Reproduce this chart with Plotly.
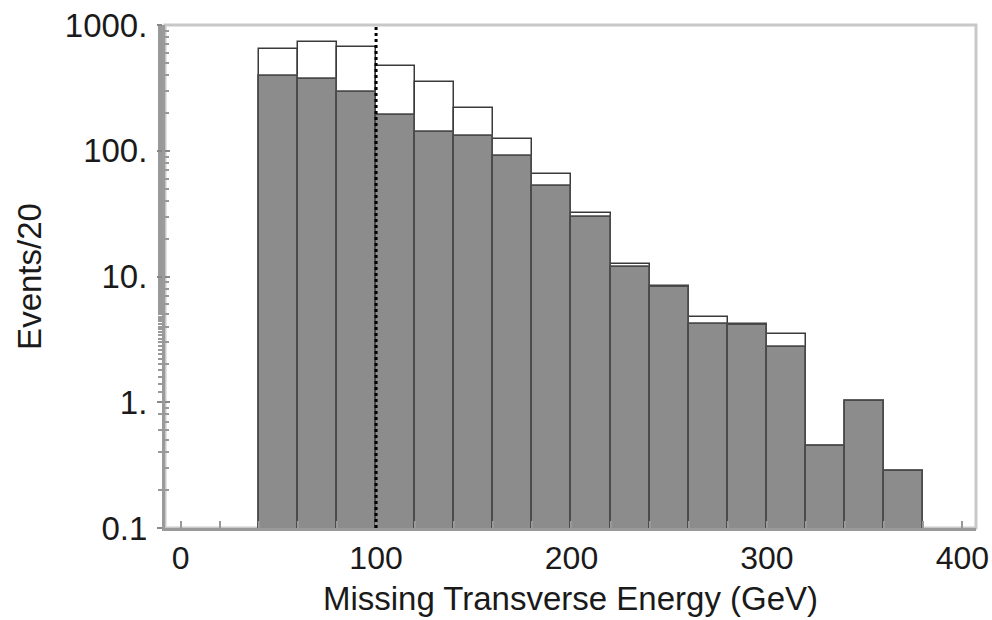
import plotly.graph_objects as go

# Histogram bins (GeV), width 20
bin_left = [40, 60, 80, 100, 120, 140, 160, 180, 200, 220, 240, 260, 280, 300, 320, 340, 360]
bin_width = 20
# Total events (open histogram)
total_events = [641, 728, 673, 474, 350, 217, 124, 65, 32.1, 12.5, 8.4, 4.77, 4.2, 3.46, 0.45, 1.02, 0.285]
# Selected events (shaded histogram)
selected_events = [393, 370, 291, 192, 140, 131, 90.8, 52.7, 29.9, 11.9, 8.2, 4.18, 4.15, 2.76, 0.45, 1.02, 0.285]
cut_value = 100

x_ticks = [0, 100, 200, 300, 400]
y_tickvals = [0.1, 1, 10, 100, 1000]
y_ticktext = ["0.1", "1.", "10.", "100.", "1000."]

centers = [b + bin_width / 2 for b in bin_left]

FONT = "Liberation Sans, Arial, Helvetica, sans-serif"

fig = go.Figure()
fig.add_trace(go.Bar(
    x=centers, y=total_events, width=bin_width,
    marker=dict(color="white", line=dict(color="#3a3a3a", width=1.5)),
    showlegend=False, hoverinfo="skip",
))
fig.add_trace(go.Bar(
    x=centers, y=selected_events, width=bin_width,
    marker=dict(color="#8c8c8c", line=dict(color="#4a4a4a", width=1.8)),
    showlegend=False, hoverinfo="skip",
))
# invisible trace to activate the second y axis (inside half of crossed ticks)
fig.add_trace(go.Scatter(x=[None], y=[None], yaxis="y2", showlegend=False, hoverinfo="skip"))

fig.update_layout(
    width=992, height=620,
    margin=dict(l=165, r=16, t=25, b=92, autoexpand=False),
    paper_bgcolor="white", plot_bgcolor="white",
    barmode="overlay", bargap=0,
    font=dict(family=FONT, size=33, color="#1a1a1a"),
    xaxis=dict(
        range=[-8, 407], automargin=False,
        tickvals=x_ticks, ticktext=[str(v) for v in x_ticks],
        ticks="inside", ticklen=7, tickwidth=1.5, tickcolor="#999999",
        minor=dict(dtick=20, tick0=0, ticks="inside", ticklen=7, tickwidth=1.5, tickcolor="#999999"),
        showline=True, linecolor="#9a9a9a", linewidth=3,
        showgrid=False, zeroline=False,
        title=dict(text="Missing Transverse Energy (GeV)", font=dict(size=33), standoff=12),
        tickfont=dict(size=32),
    ),
    yaxis=dict(
        type="log", range=[-1, 3], automargin=False,
        tickvals=y_tickvals, ticktext=y_ticktext,
        ticks="outside", ticklen=5, tickwidth=2, tickcolor="#888888",
        ticklabelstandoff=3,
        minor=dict(ticks="outside", ticklen=4, tickwidth=1.5, tickcolor="#999999", showgrid=False),
        showline=True, linecolor="#9a9a9a", linewidth=3,
        showgrid=False, zeroline=False,
        title=dict(text="Events/20", font=dict(size=33), standoff=14),
        tickfont=dict(size=33),
    ),
    yaxis2=dict(
        type="log", range=[-1, 3], overlaying="y", side="left", automargin=False,
        tickmode="linear", tick0=0, dtick=1, ticks="inside", ticklen=5, tickwidth=2, tickcolor="#888888",
        minor=dict(dtick="D1", ticks="inside", ticklen=4, tickwidth=1.5, tickcolor="#999999", showgrid=False),
        showticklabels=False, showgrid=False, zeroline=False, showline=False,
    ),
    shapes=[
        dict(type="rect", xref="x domain", yref="y domain", x0=0, x1=1, y0=0, y1=1,
             line=dict(color="#c8c8c8", width=3), layer="below"),
        dict(type="line", xref="x", yref="y domain", x0=cut_value, x1=cut_value, y0=0, y1=1,
             line=dict(color="black", width=3, dash="dot"), layer="above"),
    ],
)

fig.write_html("out.html")
